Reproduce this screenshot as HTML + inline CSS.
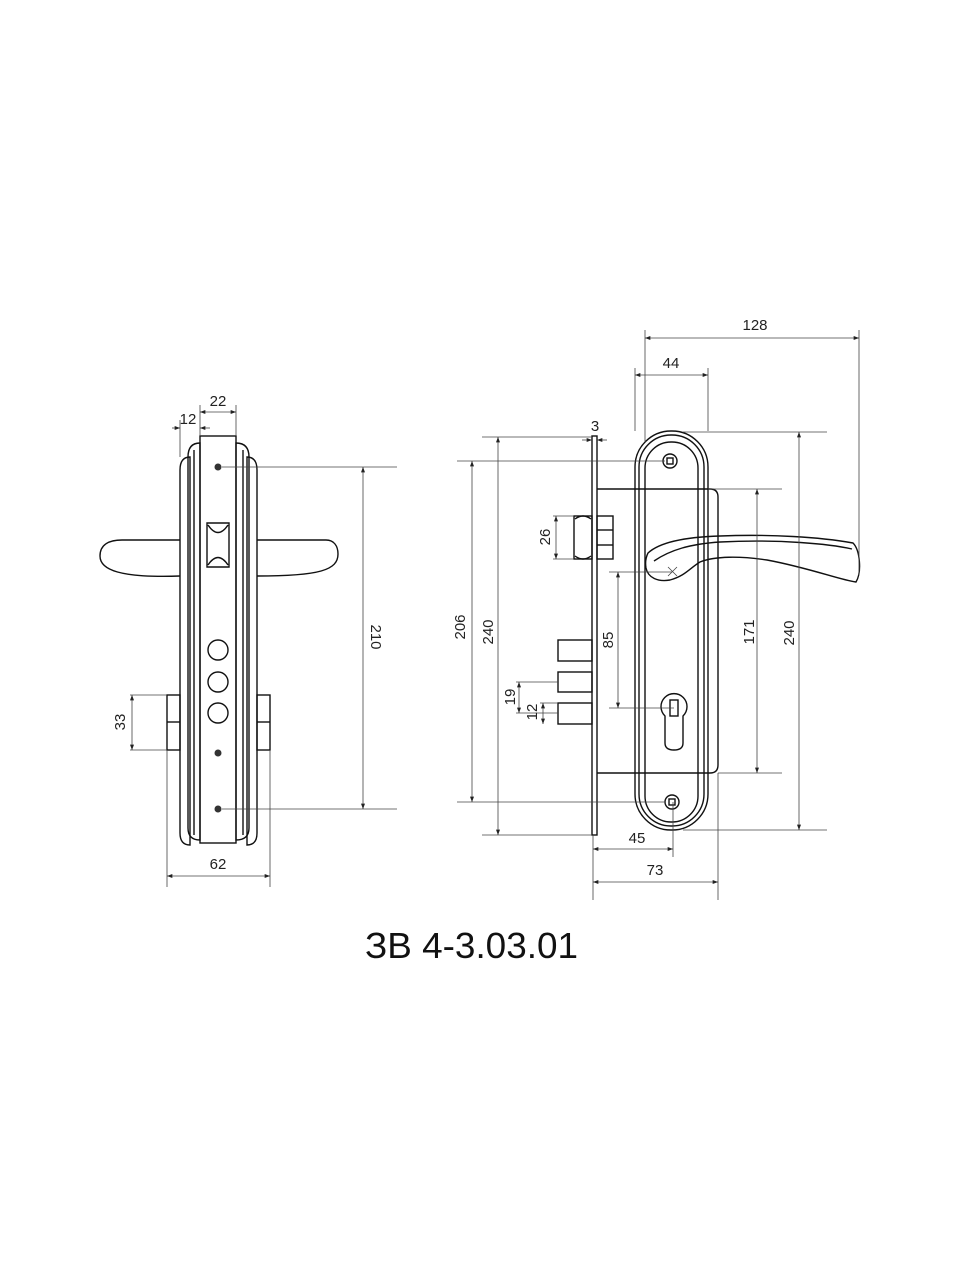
<!DOCTYPE html>
<html><head><meta charset="utf-8"><style>
html,body{margin:0;padding:0;background:#fff;}
svg{display:block;}
.s{fill:none;stroke:#111;stroke-width:1.4;}
.d{fill:none;stroke:#444;stroke-width:0.8;}
.t{font-family:"Liberation Sans",sans-serif;font-size:15px;fill:#222;}
</style></head><body>
<svg width="960" height="1280" viewBox="0 0 960 1280" xmlns="http://www.w3.org/2000/svg">
<defs>
<marker id="a" viewBox="0 0 8 6" refX="8" refY="3" markerWidth="7" markerHeight="5" orient="auto-start-reverse"><path d="M0,0 L8,3 L0,6z" fill="#222"/></marker>
</defs>

<!-- LEFT VIEW -->
<path class="s" d="M180,576 C120,578 100,570 100,556 C100,544 110,540 122,540 L180,540"/>
<path class="s" d="M257,540 L326,540 C334,540 338,546 338,554 C338,570 320,576 257,576"/>
<path class="s" d="M180,470 Q180,457 190,457 L190,845 Q180,845 180,833 Z"/>
<path class="s" d="M257,470 Q257,457 247,457 L247,845 Q257,845 257,833 Z"/>
<path class="s" d="M188,457 Q188,443 200,443 L200,840 Q188,840 188,828 Z"/>
<path class="s" d="M249,457 Q249,443 236,443 L236,840 Q249,840 249,828 Z"/>
<line class="s" x1="194" y1="450" x2="194" y2="835"/>
<line class="s" x1="243" y1="450" x2="243" y2="835"/>
<rect class="s" x="200" y="436" width="36" height="407"/>
<circle cx="218" cy="467" r="3.5" fill="#333"/>
<circle cx="218" cy="753" r="3.5" fill="#333"/>
<circle cx="218" cy="809" r="3.5" fill="#333"/>
<path class="s" d="M207,523 L229,523 L229,567 L207,567 Z M208,525 Q218,540 228,525 M208,565 Q218,550 228,565"/>
<circle class="s" cx="218" cy="650" r="10"/>
<circle class="s" cx="218" cy="682" r="10"/>
<circle class="s" cx="218" cy="713" r="10"/>
<rect class="s" x="167" y="695" width="13" height="55"/><line class="s" x1="167" y1="722" x2="180" y2="722"/>
<rect class="s" x="257" y="695" width="13" height="55"/><line class="s" x1="257" y1="722" x2="270" y2="722"/>

<!-- left dims -->
<line class="d" x1="200" y1="405" x2="200" y2="436"/>
<line class="d" x1="236" y1="405" x2="236" y2="436"/>
<line class="d" x1="180" y1="420" x2="180" y2="457"/>
<line class="d" x1="200" y1="412" x2="236" y2="412" marker-start="url(#a)" marker-end="url(#a)"/>
<line class="d" x1="172" y1="428" x2="180" y2="428" marker-end="url(#a)"/>
<line class="d" x1="210" y1="428" x2="200" y2="428" marker-end="url(#a)"/>
<text class="t" x="218" y="406" text-anchor="middle">22</text>
<text class="t" x="188" y="424" text-anchor="middle">12</text>
<line class="d" x1="222" y1="467" x2="397" y2="467"/>
<line class="d" x1="222" y1="809" x2="397" y2="809"/>
<line class="d" x1="363" y1="467" x2="363" y2="809" marker-start="url(#a)" marker-end="url(#a)"/>
<text class="t" transform="translate(371,637) rotate(90)" text-anchor="middle">210</text>
<line class="d" x1="130" y1="695" x2="167" y2="695"/>
<line class="d" x1="130" y1="750" x2="167" y2="750"/>
<line class="d" x1="132" y1="695" x2="132" y2="750" marker-start="url(#a)" marker-end="url(#a)"/>
<text class="t" transform="translate(125,722) rotate(-90)" text-anchor="middle">33</text>
<line class="d" x1="167" y1="750" x2="167" y2="887"/>
<line class="d" x1="270" y1="750" x2="270" y2="887"/>
<line class="d" x1="167" y1="876" x2="270" y2="876" marker-start="url(#a)" marker-end="url(#a)"/>
<text class="t" x="218" y="869" text-anchor="middle">62</text>

<!-- RIGHT VIEW -->
<rect class="s" x="592" y="436" width="5" height="399"/>
<path class="s" d="M597,489 L710,489 Q718,489 718,497 L718,765 Q718,773 710,773 L597,773"/>
<rect class="s" x="574" y="516" width="18" height="43"/>
<path class="s" d="M575,519 Q583,513 591,519 M575,556 Q583,562 591,556"/>
<rect class="s" x="597" y="516" width="16" height="43"/>
<line class="s" x1="597" y1="530" x2="613" y2="530"/><line class="s" x1="597" y1="545" x2="613" y2="545"/>
<rect class="s" x="558" y="640" width="34" height="21"/>
<rect class="s" x="558" y="672" width="34" height="20"/>
<rect class="s" x="558" y="703" width="34" height="21"/>
<rect class="s" x="635" y="431" width="73" height="399" rx="36" fill="#fff"/>
<rect class="s" x="639" y="435" width="65" height="391" rx="32"/>
<rect class="s" x="645" y="442" width="53" height="380" rx="26"/>
<circle class="s" cx="670" cy="461" r="7"/><rect class="s" x="667" y="458" width="6" height="6"/>
<circle class="s" cx="672" cy="802" r="7"/><rect class="s" x="669" y="799" width="6" height="6"/>
<path class="s" d="M665,716 A13,13 0 1 1 683,716 L683,743 Q683,750 674,750 Q665,750 665,743 Z"/>
<rect class="s" x="670" y="700" width="8" height="16"/>
<path class="s" fill="#fff" d="M648,553 C660,542 685,537 720,536 C770,534 820,537 853,543 C860,550 862,572 856,582 C840,580 810,568 767,560 C740,556 715,556 700,562 C690,568 685,576 670,580 C658,582 648,578 646,568 C645,562 646,557 648,553 Z"/>
<path class="s" d="M654,561 C670,550 690,544 720,542 C780,539 830,544 852,549"/>
<path class="d" d="M668,567 L677,576 M677,567 L668,576"/>

<!-- right dims -->
<line class="d" x1="645" y1="330" x2="645" y2="442"/>
<line class="d" x1="859" y1="330" x2="859" y2="575"/>
<line class="d" x1="645" y1="338" x2="859" y2="338" marker-start="url(#a)" marker-end="url(#a)"/>
<text class="t" x="755" y="330" text-anchor="middle">128</text>
<line class="d" x1="635" y1="368" x2="635" y2="431"/>
<line class="d" x1="708" y1="368" x2="708" y2="431"/>
<line class="d" x1="635" y1="375" x2="708" y2="375" marker-start="url(#a)" marker-end="url(#a)"/>
<text class="t" x="671" y="368" text-anchor="middle">44</text>
<line class="d" x1="582" y1="440" x2="592" y2="440" marker-end="url(#a)"/>
<line class="d" x1="607" y1="440" x2="597" y2="440" marker-end="url(#a)"/>
<text class="t" x="595" y="431" text-anchor="middle">3</text>
<line class="d" x1="482" y1="437" x2="592" y2="437"/>
<line class="d" x1="482" y1="835" x2="592" y2="835"/>
<line class="d" x1="498" y1="437" x2="498" y2="835" marker-start="url(#a)" marker-end="url(#a)"/>
<text class="t" transform="translate(493,632) rotate(-90)" text-anchor="middle">240</text>
<line class="d" x1="457" y1="461" x2="665" y2="461"/>
<line class="d" x1="457" y1="802" x2="665" y2="802"/>
<line class="d" x1="472" y1="461" x2="472" y2="802" marker-start="url(#a)" marker-end="url(#a)"/>
<text class="t" transform="translate(465,627) rotate(-90)" text-anchor="middle">206</text>
<line class="d" x1="553" y1="516" x2="574" y2="516"/>
<line class="d" x1="553" y1="559" x2="574" y2="559"/>
<line class="d" x1="556" y1="516" x2="556" y2="559" marker-start="url(#a)" marker-end="url(#a)"/>
<text class="t" transform="translate(550,537) rotate(-90)" text-anchor="middle">26</text>
<line class="d" x1="609" y1="572" x2="672" y2="572"/>
<line class="d" x1="609" y1="708" x2="674" y2="708"/>
<line class="d" x1="618" y1="572" x2="618" y2="708" marker-start="url(#a)" marker-end="url(#a)"/>
<text class="t" transform="translate(613,640) rotate(-90)" text-anchor="middle">85</text>
<line class="d" x1="516" y1="682" x2="558" y2="682"/>
<line class="d" x1="516" y1="713" x2="558" y2="713"/>
<line class="d" x1="540" y1="703" x2="558" y2="703"/>
<line class="d" x1="519" y1="682" x2="519" y2="713" marker-start="url(#a)" marker-end="url(#a)"/>
<text class="t" transform="translate(515,697) rotate(-90)" text-anchor="middle">19</text>
<line class="d" x1="543" y1="703" x2="543" y2="724" marker-start="url(#a)" marker-end="url(#a)"/>
<text class="t" transform="translate(537,712) rotate(-90)" text-anchor="middle">12</text>
<line class="d" x1="708" y1="489" x2="782" y2="489"/>
<line class="d" x1="718" y1="773" x2="782" y2="773"/>
<line class="d" x1="757" y1="489" x2="757" y2="773" marker-start="url(#a)" marker-end="url(#a)"/>
<text class="t" transform="translate(754,632) rotate(-90)" text-anchor="middle">171</text>
<line class="d" x1="683" y1="432" x2="827" y2="432"/>
<line class="d" x1="683" y1="830" x2="827" y2="830"/>
<line class="d" x1="799" y1="432" x2="799" y2="830" marker-start="url(#a)" marker-end="url(#a)"/>
<text class="t" transform="translate(794,633) rotate(-90)" text-anchor="middle">240</text>
<line class="d" x1="593" y1="835" x2="593" y2="900"/>
<line class="d" x1="673" y1="802" x2="673" y2="857"/>
<line class="d" x1="718" y1="773" x2="718" y2="900"/>
<line class="d" x1="593" y1="849" x2="673" y2="849" marker-start="url(#a)" marker-end="url(#a)"/>
<text class="t" x="637" y="843" text-anchor="middle">45</text>
<line class="d" x1="593" y1="882" x2="718" y2="882" marker-start="url(#a)" marker-end="url(#a)"/>
<text class="t" x="655" y="875" text-anchor="middle">73</text>

<text x="365" y="958" font-family="Liberation Sans, sans-serif" font-size="36" fill="#111" textLength="213" lengthAdjust="spacingAndGlyphs">ЗВ 4-3.03.01</text>
</svg>
</body></html>
